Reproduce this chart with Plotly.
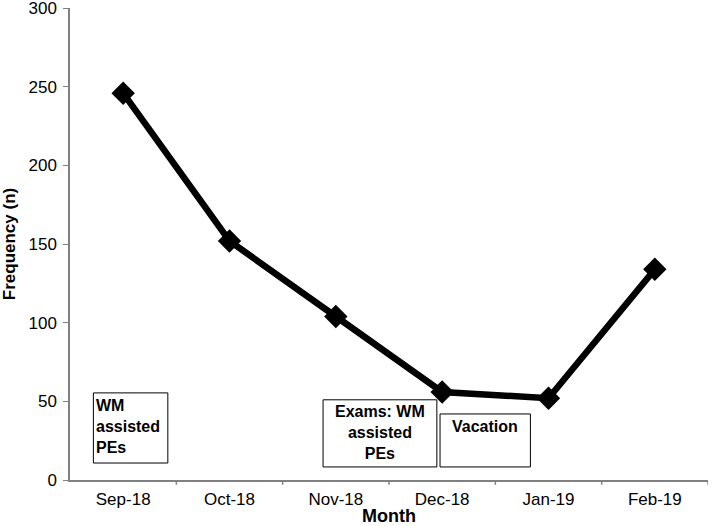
import plotly.graph_objects as go

months = ["Sep-18", "Oct-18", "Nov-18", "Dec-18", "Jan-19", "Feb-19"]
frequency = [246, 152, 104, 56, 52, 134]
y_ticks = [0, 50, 100, 150, 200, 250, 300]

font = "Liberation Sans, Arial, Helvetica, sans-serif"

fig = go.Figure()
fig.add_trace(go.Scatter(
    x=list(range(len(months))), y=frequency, mode="lines+markers",
    line=dict(color="black", width=6.5),
    marker=dict(symbol="diamond", size=18, color="black"),
    showlegend=False, cliponaxis=False,
))

boxes = [
    dict(x0=-0.28, x1=0.42, y0=10.8, y1=55.4),
    dict(x0=1.88, x1=2.95, y0=8.3, y1=51.0),
    dict(x0=2.98, x1=3.83, y0=8.3, y1=42.0),
]
for b in boxes:
    fig.add_shape(type="rect", xref="x", yref="y", line=dict(color="black", width=1),
                  fillcolor="white", layer="below", **b)

fig.add_annotation(x=-0.27, y=54.0, xref="x", yref="y", text="<b>WM<br>assisted<br>PEs</b>",
                   showarrow=False, xanchor="left", yanchor="top", align="left",
                   font=dict(family=font, size=16, color="black"))
fig.add_annotation(x=2.415, y=50.0, xref="x", yref="y", text="<b>Exams: WM<br>assisted<br>PEs</b>",
                   showarrow=False, xanchor="center", yanchor="top", align="center",
                   font=dict(family=font, size=16, color="black"))
fig.add_annotation(x=3.405, y=40.5, xref="x", yref="y", text="<b>Vacation</b>",
                   showarrow=False, xanchor="center", yanchor="top", align="center",
                   font=dict(family=font, size=16, color="black"))

fig.update_layout(
    width=712, height=526,
    margin=dict(l=70, r=4, t=8, b=46),
    plot_bgcolor="white", paper_bgcolor="white",
    font=dict(family=font, size=17, color="black"),
    xaxis=dict(
        range=[-0.5, 5.5], tickmode="array",
        tickvals=list(range(len(months))), ticktext=months,
        showgrid=False, zeroline=False, showline=True, linecolor="#808080", linewidth=1.5,
        ticks="", automargin=False, ticklabelstandoff=3,
        title=dict(text="<b>Month</b>", standoff=4, font=dict(size=18)),
    ),
    yaxis=dict(
        range=[0, 300.2], tickmode="array", tickvals=y_ticks, ticktext=[str(v) for v in y_ticks],
        showgrid=False, zeroline=False, showline=True, linecolor="#808080", linewidth=1.5,
        ticks="outside", ticklen=5, tickcolor="#808080", automargin=False,
        ticklabeloverflow="allow", ticklabelstandoff=3,
        title=dict(text="<b>Frequency (n)</b>", standoff=10, font=dict(size=17)),
    ),
)
# minor ticks between categories on x axis
for i in range(len(months)):
    fig.add_shape(type="line", xref="x", yref="paper", x0=i + 0.5, x1=i + 0.5, y0=0, y1=-0.01,
                  line=dict(color="#808080", width=1.5))

fig.write_html("out.html", config={"displayModeBar": False},
               post_script="document.body.style.margin='0';document.body.style.overflow='hidden';")
